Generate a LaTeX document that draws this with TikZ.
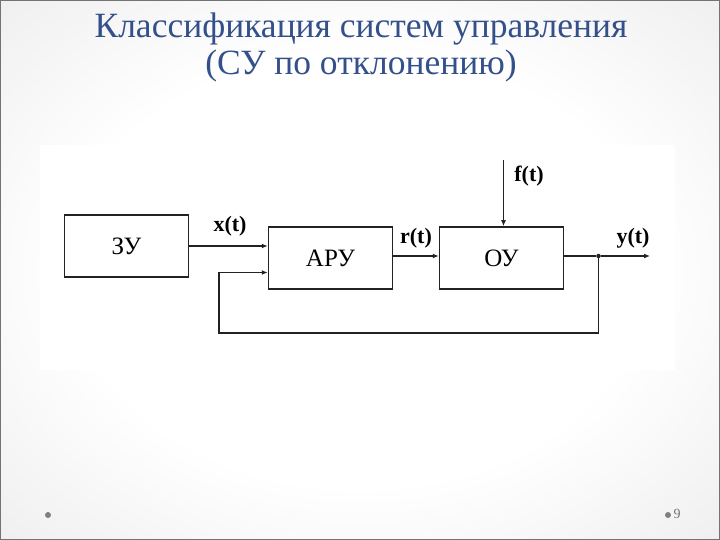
\documentclass[tikz,border=0pt]{standalone}
\usepackage{fontspec}
\setmainfont{Liberation Serif}
\usetikzlibrary{arrows.meta}
\definecolor{titleblue}{HTML}{34508A}
\definecolor{wire}{HTML}{222222}
\pgfdeclareradialshading{slidebg}{\pgfpoint{0bp}{0bp}}{color(0bp)=(white); color(20bp)=(white); color(50bp)=(black!12); color(72bp)=(black!18)}
\tikzstyle{block}=[draw=wire, line width=1.5pt, minimum width=124pt, minimum height=62pt, font=\fontsize{25}{28}\selectfont]
\tikzstyle{signal}=[font=\bfseries\fontsize{22}{24}\selectfont]
\tikzstyle{link}=[draw=wire, line width=1.5pt, -{Latex[length=6pt,width=5pt]}]

\begin{document}
\begin{tikzpicture}[x=1pt, y=-1pt]
% Slide
    \shade[shading=slidebg] (0,0) rectangle (720,540);
    \fill[white] (40,145) rectangle (675,370);
    \draw[black!55, line width=1pt] (0.5,0.5) rectangle (719.5,539.5);
    \useasboundingbox (0,0) rectangle (720,540);
% Title
    \node[titleblue, font=\fontsize{35.5}{37}\selectfont, align=center] (title) at (361,47)
        {Классификация систем управления\\(СУ по отклонению)};
% Blocks
    \node[block] (zu) at (126.5,246) {ЗУ};
    \node[block] (aru) at (330.5,258) {АРУ};
    \node[block] (ou) at (501.5,258) {ОУ};
% Points
    \coordinate (ftop) at (503.5,160);
    \coordinate (yend) at (650,256);
    \node[circle, fill=wire, inner sep=0pt, minimum size=4.5pt] (tap) at (598.5,256) {};
    \coordinate (fbR) at (598.5,333);
    \coordinate (fbL) at (219,333);
    \coordinate (fbU) at (219,272.5);
% Signals
    \draw[link] (zu.east) -- (zu.east -| aru.west);
    \draw[link] (aru.east |- tap) -- (ou.west |- tap);
    \draw[link] (ftop) -- (ftop |- ou.north);
    \draw[draw=wire, line width=1.5pt] (ou.east |- tap) -- (tap);
    \draw[link] (tap) -- (yend);
    \draw[link] (tap) -- (fbR) -- (fbL) -- (fbU) -- (fbU -| aru.west);
% Labels
    \node[signal] (xl) at (230,226) {x(t)};
    \node[signal] (rl) at (416,238) {r(t)};
    \node[signal] (yl) at (633,238) {y(t)};
    \node[signal] (fl) at (529,176) {f(t)};
% Footer
    \fill[black!50] (48,515) circle (3);
    \fill[black!50] (668,515) circle (3);
    \node[black!55, font=\fontsize{14}{16}\selectfont] (page) at (677,514) {9};
\end{tikzpicture}
\end{document}
